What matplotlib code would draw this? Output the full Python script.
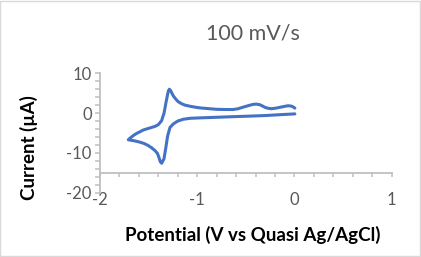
import matplotlib
matplotlib.use("Agg")
import matplotlib.pyplot as plt
from matplotlib.ticker import MultipleLocator
from matplotlib.patches import Rectangle

# Cyclic voltammogram: forward (cathodic) sweep then reverse (anodic) sweep
potential = [0.004, -0.15, -0.287, -0.45, -0.63, -0.80, -0.97, -1.07, -1.144, -1.20,
             -1.245, -1.28, -1.304, -1.325, -1.342, -1.366, -1.38, -1.394, -1.41, -1.435,
             -1.47, -1.504, -1.545, -1.589, -1.64, -1.675, -1.709,
             -1.691, -1.655, -1.623, -1.59, -1.555, -1.51, -1.469, -1.43, -1.40, -1.383,
             -1.366, -1.355, -1.342, -1.332, -1.321, -1.304, -1.296, -1.287, -1.275, -1.26,
             -1.247, -1.22, -1.195, -1.16, -1.126, -1.07, -1.024, -0.97, -0.92, -0.80,
             -0.70, -0.63, -0.58, -0.527, -0.47, -0.424, -0.39, -0.356, -0.33, -0.304,
             -0.27, -0.236, -0.19, -0.15, -0.10, -0.065, -0.03, -0.01, 0.004]
current = [-0.2, -0.4, -0.6, -0.75, -0.9, -1.05, -1.2, -1.3, -1.55, -2.0,
           -2.7, -3.6, -5.7, -9.0, -11.5, -12.6, -12.2, -11.1, -10.1, -9.4,
           -8.7, -8.15, -7.65, -7.3, -7.0, -6.85, -6.7,
           -6.3, -5.6, -5.1, -4.7, -4.25, -3.9, -3.6, -3.3, -2.9, -2.4,
           -1.9, -1.0, -0.1, 1.2, 2.7, 4.75, 5.6, 6.0, 5.7, 5.0,
           4.35, 3.5, 2.85, 2.35, 2.0, 1.7, 1.5, 1.3, 1.2, 0.95,
           0.9, 0.9, 1.1, 1.5, 1.9, 2.2, 2.25, 2.1, 1.8, 1.45,
           1.2, 1.1, 1.25, 1.45, 1.7, 1.85, 1.75, 1.5, 1.25]

title = "100 mV/s"
xlabel = "Potential (V vs Quasi Ag/AgCl)"
ylabel = "Current (\u00b5A)"
xticks = [-2, -1, 0, 1]
yticks = [-20, -10, 0, 10]

plt.rcParams['font.family'] = ['Lato', 'DejaVu Sans']

fig = plt.figure(figsize=(4.21, 2.57), dpi=100)
ax = fig.add_axes([0.2375, 0.2502, 0.6929, 0.4646])

ax.plot(potential, current, color='#4472C4', lw=2.2, solid_joinstyle='round', solid_capstyle='round')

ax.set_xlim(-2, 1)
ax.set_ylim(-20, 10)
ax.xaxis.set_minor_locator(MultipleLocator(0.2))
ax.yaxis.set_minor_locator(MultipleLocator(2))

for s in ['top', 'right']:
    ax.spines[s].set_visible(False)
ax.spines['bottom'].set_position(('data', -15))
for s in ['left', 'bottom']:
    ax.spines[s].set_color('#BFBFBF')
    ax.spines[s].set_linewidth(1.3)

gray = '#595959'
ax.tick_params(axis='x', which='both', direction='out', length=3, width=1.1, color='#BFBFBF',
               labelcolor=gray, labelsize=12, pad=10.5)
ax.tick_params(axis='y', which='both', direction='out', length=3.5, width=1.1, color='#BFBFBF',
               labelcolor=gray, labelsize=12, pad=2.5)
ax.set_xticks(xticks)
ax.set_xticklabels([str(v) for v in xticks])
ax.set_yticks(yticks)
ax.set_yticklabels([str(v) for v in yticks])
ax.patch.set_visible(False)

fig.text(0.6, 0.87, title, ha='center', va='center', fontsize=15.5, color=gray)
fig.text(0.6, 0.085, xlabel, ha='center', va='center', fontsize=13.5, fontweight='bold', color='black')
fig.text(0.069, 0.425, ylabel, ha='center', va='center', rotation=90, fontsize=13.5,
         fontweight='bold', color='black')

fig.patches.append(Rectangle((0.001, 0.002), 0.997, 0.995, transform=fig.transFigure,
                             fill=False, edgecolor='#D9D9D9', lw=1.0))

fig.savefig('out.png', dpi=100, facecolor='white')
